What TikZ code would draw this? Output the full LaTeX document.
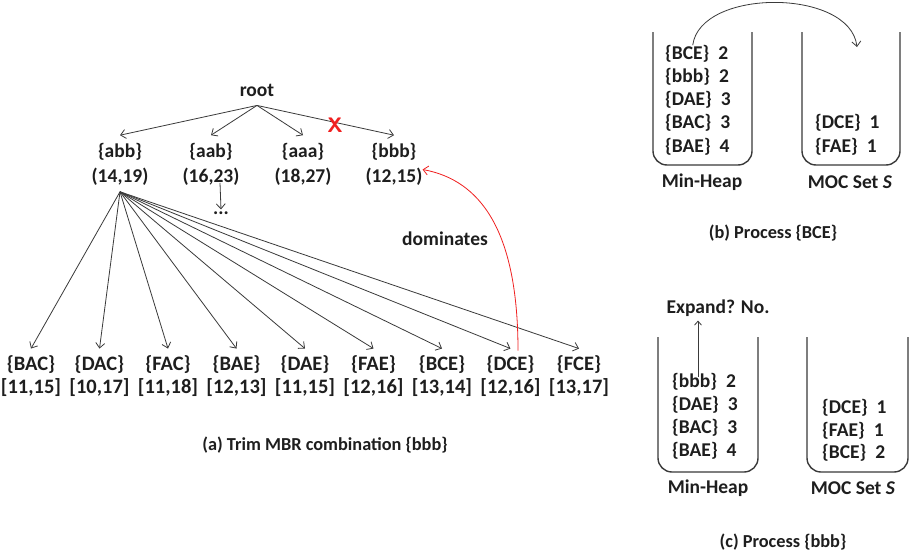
\documentclass[tikz,border=0pt]{standalone}
\usepackage{fontspec}
\setmainfont{Carlito}
\usetikzlibrary{arrows.meta}
\definecolor{txt}{HTML}{1E1E1E}
\definecolor{ln}{HTML}{3A3A3A}
\definecolor{redx}{HTML}{F02020}
\begin{document}
\begin{tikzpicture}[x=1pt,y=-1pt,
  lbl/.style={font=\bfseries\fontsize{19.5}{25}\selectfont, text=txt, inner sep=0pt, align=center},
  lbltwo/.style={font=\bfseries\fontsize{20.5}{22.5}\selectfont, text=txt, inner sep=0pt, align=center},
  captxt/.style={font=\bfseries\fontsize{18.3}{22}\selectfont, text=txt, inner sep=0pt},
  subtxt/.style={font=\bfseries\fontsize{19.5}{22}\selectfont, text=txt, inner sep=0pt},
  rowtxt/.style={font=\bfseries\fontsize{19.5}{22}\selectfont, text=txt, inner sep=0pt, anchor=west},
  arr/.style={draw=ln, line width=0.8pt, -{Straight Barb[length=5pt,width=9pt]}},
  cont/.style={draw=ln, line width=1.4pt, rounded corners=14pt},
]
\useasboundingbox (0,0) rectangle (916,554);
\fill[white] (0,0) rectangle (916,554);

% ---------- (a) tree ----------
\node[lbl] (root) at (257,90) {root};
\node[lbl] (abb) at (120,164.5) {\{abb\}\\(14,19)};
\node[lbl] (aab) at (211,164.5) {\{aab\}\\(16,23)};
\node[lbl] (aaa) at (303,164.5) {\{aaa\}\\(18,27)};
\node[lbl] (bbb) at (394,164.5) {\{bbb\}\\(12,15)};

\coordinate (rt) at ([yshift=-9pt]root.south);
\draw[arr] (rt) -- ([yshift=8pt]abb.north);
\draw[arr] (rt) -- ([yshift=8pt]aab.north);
\draw[arr] (rt) -- ([yshift=8pt]aaa.north);
\draw[arr] (rt) -- ([yshift=8pt]bbb.north);
\node[font=\bfseries\sffamily\fontsize{21}{21}\selectfont, text=redx, inner sep=0pt] (x) at (335,125) {X};

\node[lbl] (dots) at (221,213) {...};
\draw[arr] ([xshift=9pt,yshift=3pt]aab.south) -- ([yshift=2pt]dots.north);

\coordinate (fan) at ([yshift=-6pt]abb.south);
\node[lbltwo] (c1) at (31,376) {\{BAC\}\\{}[11,15]};
\node[lbltwo] (c2) at (99.5,376) {\{DAC\}\\{}[10,17]};
\node[lbltwo] (c3) at (168,376) {\{FAC\}\\{}[11,18]};
\node[lbltwo] (c4) at (236.5,376) {\{BAE\}\\{}[12,13]};
\node[lbltwo] (c5) at (305,376) {\{DAE\}\\{}[11,15]};
\node[lbltwo] (c6) at (373.5,376) {\{FAE\}\\{}[12,16]};
\node[lbltwo] (c7) at (442,376) {\{BCE\}\\{}[13,14]};
\node[lbltwo] (c8) at (510.5,376) {\{DCE\}\\{}[12,16]};
\node[lbltwo] (c9) at (579,376) {\{FCE\}\\{}[13,17]};
\foreach \i in {1,...,9}{
  \draw[arr] (fan) -- ([yshift=7pt]c\i.north);
}

\draw[draw=redx, line width=0.8pt, -{Straight Barb[length=5pt,width=9pt]}]
  ([xshift=7.5pt,yshift=5pt]c8.north) .. controls (518,230) and (480,180) .. ([yshift=-5pt]bbb.east);
\node[lbl] (dom) at (445,239) {dominates};

\node[captxt] (capa) at (325,445) {(a) Trim MBR combination \{bbb\}};

% ---------- (b) ----------
\draw[cont] (653,32) -- (653,165) -- (752,165) -- (752,32);
\draw[cont] (802,32) -- (802,165) -- (900,165) -- (900,32);
\node[rowtxt] (b1) at (665,54) {\{BCE\}\hspace{9pt}2};
\node[rowtxt] (b2) at (665,77) {\{bbb\}\hspace{9pt}2};
\node[rowtxt] (b3) at (665,100) {\{DAE\}\hspace{9pt}3};
\node[rowtxt] (b4) at (665,123) {\{BAC\}\hspace{9pt}3};
\node[rowtxt] (b5) at (665,147) {\{BAE\}\hspace{9pt}4};
\node[rowtxt] (bm1) at (815,123) {\{DCE\}\hspace{9pt}1};
\node[rowtxt] (bm2) at (815,147) {\{FAE\}\hspace{9pt}1};
\node[subtxt] (bh) at (702,182) {Min-Heap};
\node[subtxt] (bs) at (850,182) {MOC Set \textit{S}};
\coordinate (btgt) at (857,47);
\draw[arr] ([xshift=-4pt]b1.north) .. controls (700,-12) and (850,-12) .. (btgt);
\node[captxt] (capb) at (773,233) {(b) Process \{BCE\}};

% ---------- (c) ----------
\draw[cont] (658,337) -- (658,472) -- (758,472) -- (758,337);
\draw[cont] (807,337) -- (807,472) -- (908,472) -- (908,337);
\node[rowtxt] (c1r) at (672,382) {\{bbb\}\hspace{9pt}2};
\node[rowtxt] (c2r) at (672,405) {\{DAE\}\hspace{9pt}3};
\node[rowtxt] (c3r) at (672,428) {\{BAC\}\hspace{9pt}3};
\node[rowtxt] (c4r) at (672,451) {\{BAE\}\hspace{9pt}4};
\node[rowtxt] (cm1) at (822,408) {\{DCE\}\hspace{9pt}1};
\node[rowtxt] (cm2) at (822,431) {\{FAE\}\hspace{9pt}1};
\node[rowtxt] (cm3) at (822,453) {\{BCE\}\hspace{9pt}2};
\node[subtxt] (ch) at (708,488) {Min-Heap};
\node[subtxt] (cs) at (853,488) {MOC Set \textit{S}};
\node[subtxt] (exp) at (718,308) {Expand? No.};
\coordinate (cstart) at (698,377);
\draw[draw=ln, line width=0.8pt, -{Straight Barb[length=4pt,width=7pt]}] (cstart) -- ([yshift=-4pt]cstart |- exp.south);
\node[captxt] (capc) at (783,542) {(c) Process \{bbb\}};
\end{tikzpicture}
\end{document}
